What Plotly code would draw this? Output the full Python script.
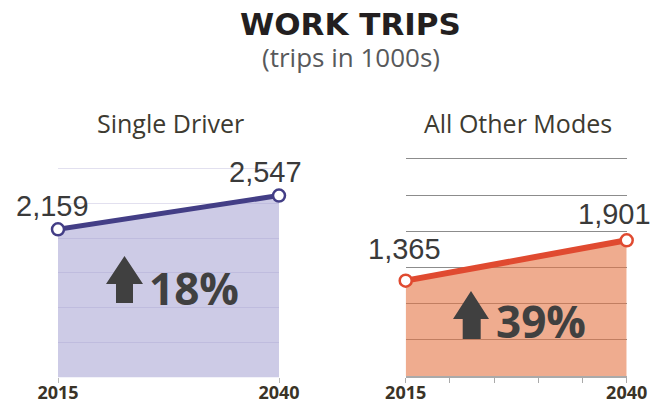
import plotly.graph_objects as go

# ---- data ----
years = [2015, 2040]
single_driver = [2159, 2547]
other_modes = [1365, 1901]
pct_single = "18%"
pct_other = "39%"
left_ticks = [2015, 2040]
left_ticktext = ["2015", "2040"]
right_ticks = [2015, 2020, 2025, 2030, 2035, 2040]
right_ticktext = ["2015", "", "", "", "", "2040"]
title = "WORK TRIPS"
subtitle = "(trips in 1000s)"
panel_titles = ["Single Driver", "All Other Modes"]

# page body has an 8px default margin; size the figure to fill the window exactly
OFF = 8
W, H = 658 - OFF, 401 - OFF
def px(x):
    return (x - OFF) / W
def py(y):
    return 1 - (y - OFF) / H

fig = go.Figure()

# left panel
fig.add_trace(go.Scatter(
    x=years, y=single_driver, xaxis="x", yaxis="y", mode="lines+markers",
    fill="tozeroy", fillcolor="rgba(155,151,205,0.5)",
    line=dict(color="#433e86", width=5),
    marker=dict(symbol="circle", size=12, color="white", line=dict(color="#433e86", width=2.5)),
    cliponaxis=False, showlegend=False, hoverinfo="skip"))
# right panel
fig.add_trace(go.Scatter(
    x=years, y=other_modes, xaxis="x2", yaxis="y2", mode="lines+markers",
    fill="tozeroy", fillcolor="rgba(228,117,68,0.6)",
    line=dict(color="#e04a30", width=6),
    marker=dict(symbol="circle", size=12, color="white", line=dict(color="#e04a30", width=2.5)),
    cliponaxis=False, showlegend=False, hoverinfo="skip"))

tickfont = dict(family="Open Sans", size=18, color="#3a3327", weight="bold")

fig.update_layout(
    width=W, height=H, autosize=False,
    margin=dict(l=0, r=0, t=0, b=0, autoexpand=False),
    paper_bgcolor="white", plot_bgcolor="rgba(0,0,0,0)",
    xaxis=dict(domain=[px(58), px(279)], range=[2015, 2040], tickvals=left_ticks,
               ticktext=left_ticktext, ticks="outside", ticklen=5, tickcolor="#bbbbbb",
               showgrid=False, zeroline=False, showline=False, tickfont=tickfont,
               ticklabelstandoff=-6, anchor="y", automargin=False),
    yaxis=dict(domain=[py(377.3), py(160)], range=[457, 457 + (377.3 - 160) * 11.5],
               tick0=457, dtick=400, showgrid=True, gridcolor="#e2e0ef", gridwidth=1,
               showticklabels=False, zeroline=False, showline=False, anchor="x",
               automargin=False),
    xaxis2=dict(domain=[px(405.7), px(626.7)], range=[2015, 2040], tickvals=right_ticks,
                ticktext=right_ticktext, ticks="outside", ticklen=5, tickcolor="#aaaaaa",
                showgrid=False, zeroline=False, showline=True, linecolor="#aaaaaa", linewidth=2,
                tickfont=tickfont, ticklabelstandoff=-6, anchor="y2", automargin=False),
    yaxis2=dict(domain=[py(376), py(150)], range=[100, 100 + (376 - 150) * 13.27],
                tick0=100, dtick=480, showgrid=True, gridcolor="#8c8c8c", gridwidth=1.2,
                showticklabels=False, zeroline=False, showline=False, anchor="x2",
                automargin=False),
)

ann = []
ann.append(dict(text=f"<b>{title}</b>", x=px(350), y=py(23.5), xref="paper", yref="paper",
                xanchor="center", yanchor="middle", showarrow=False,
                font=dict(family="DejaVu Sans", size=31, color="#231f20")))
ann.append(dict(text=subtitle, x=px(351), y=py(57), xref="paper", yref="paper",
                xanchor="center", yanchor="middle", showarrow=False,
                font=dict(family="Open Sans", size=26, color="#58595b")))
ann.append(dict(text=panel_titles[0], x=px(170.5), y=py(123), xref="paper", yref="paper",
                xanchor="center", yanchor="middle", showarrow=False,
                font=dict(family="Open Sans", size=25, color="#3d3a30")))
ann.append(dict(text=panel_titles[1], x=px(518), y=py(123), xref="paper", yref="paper",
                xanchor="center", yanchor="middle", showarrow=False,
                font=dict(family="Open Sans", size=25, color="#3d3a30")))

label_font = dict(family="Liberation Sans", size=29, color="#3a3a3a")
shifts_left = [(-6, 23.5), (-14, 23.5)]
shifts_right = [(-1, 31.7), (-12, 26)]
for xv, yv, (dx, dy) in zip(years, single_driver, shifts_left):
    ann.append(dict(text=f"{yv:,}", x=xv, y=yv, xref="x", yref="y", xanchor="center",
                    yanchor="middle", xshift=dx, yshift=dy, showarrow=False, font=label_font))
for xv, yv, (dx, dy) in zip(years, other_modes, shifts_right):
    ann.append(dict(text=f"{yv:,}", x=xv, y=yv, xref="x2", yref="y2", xanchor="center",
                    yanchor="middle", xshift=dx, yshift=dy, showarrow=False, font=label_font))

pct_font = dict(family="Open Sans", size=44, color="#404040", weight="bold")
ann.append(dict(text=pct_single, x=px(147), y=py(288), xref="paper", yref="paper",
                xanchor="left", yanchor="middle", showarrow=False, font=pct_font))
ann.append(dict(text=pct_other, x=px(494), y=py(321), xref="paper", yref="paper",
                xanchor="left", yanchor="middle", showarrow=False, font=pct_font))
fig.update_layout(annotations=ann)

def arrow_path(x0, x1, sx0, sx1, tip, base, bottom):
    cx = (x0 + x1) / 2
    pts = [(cx, tip), (x1, base), (sx1, base), (sx1, bottom), (sx0, bottom), (sx0, base), (x0, base)]
    return "M " + " L ".join(f"{px(a):.5f},{py(b):.5f}" for a, b in pts) + " Z"

shapes = [
    dict(type="path", xref="paper", yref="paper", layer="above",
         path=arrow_path(106, 143, 116, 133, 256, 284, 303), fillcolor="#404040", line=dict(width=0)),
    dict(type="path", xref="paper", yref="paper", layer="above",
         path=arrow_path(453, 489, 462.7, 480.7, 291, 319, 339), fillcolor="#404040", line=dict(width=0)),
]
fig.update_layout(shapes=shapes)

fig.write_html("out.html")
